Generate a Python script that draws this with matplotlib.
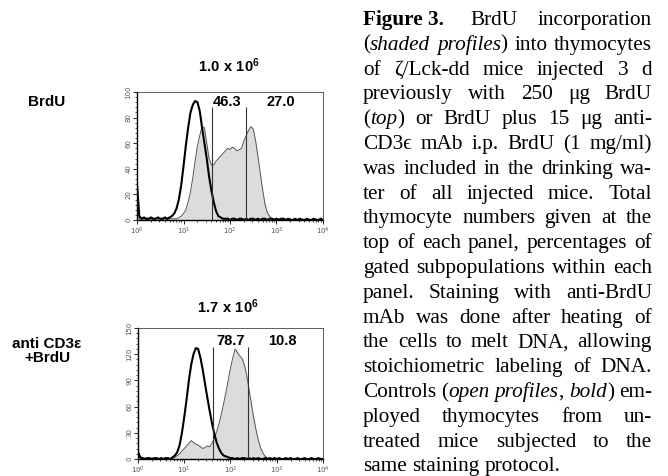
import matplotlib
matplotlib.use("Agg")
import matplotlib.pyplot as plt
import matplotlib.ticker as mticker
import numpy as np

plt.rcParams['mathtext.fontset'] = 'custom'
plt.rcParams['mathtext.rm'] = 'Liberation Sans'
plt.rcParams['mathtext.bf'] = 'Liberation Sans:bold'

# canales (log10 de la fluorescencia) y cuentas
log_canal = [0.00, 0.05, 0.10, 0.15, 0.20, 0.25, 0.30, 0.35, 0.40, 0.45,
             0.50, 0.55, 0.60, 0.65, 0.70, 0.75, 0.80, 0.85, 0.90, 0.95,
             1.00, 1.05, 1.10, 1.15, 1.20, 1.25, 1.30, 1.35, 1.40, 1.45,
             1.50, 1.55, 1.60, 1.65, 1.70, 1.75, 1.80, 1.85, 1.90, 1.95,
             2.00, 2.05, 2.10, 2.15, 2.20, 2.25, 2.30, 2.35, 2.40, 2.45,
             2.50, 2.55, 2.60, 2.65, 2.70, 2.75, 2.80, 2.85, 2.90, 2.95,
             3.00, 3.05, 3.10, 3.15, 3.20, 3.25, 3.30, 3.35, 3.40, 3.45,
             3.50, 3.55, 3.60, 3.65, 3.70, 3.75, 3.80, 3.85, 3.90, 3.95, 4.00]

# panel 1: BrdU
control_1 = [28, 3, 1, 2, 1, 1, 2, 1, 1, 2,
             1, 1, 2, 1, 2, 3, 5, 9, 16, 27,
             42, 58, 72, 84, 90, 93, 92, 85, 72, 60,
             48, 34, 23, 14, 7, 3, 2, 1, 1, 1,
             0, 1, 1, 0, 1, 1, 0, 1, 0, 1,
             1, 0, 1, 0, 1, 1, 0, 1, 1, 0,
             1, 0, 1, 1, 0, 1, 0, 0, 1, 0,
             1, 0, 0, 1, 0, 0, 1, 0, 0, 1, 0]
brdu_1 = [10, 1, 0, 1, 0, 1, 0, 1, 0, 0,
          1, 0, 1, 0, 1, 1, 1, 1, 2, 3,
          5, 8, 14, 22, 33, 46, 58, 66, 73, 72,
          60, 48, 43, 43, 46, 48, 50, 52, 54, 56,
          55, 57, 56, 54, 55, 56, 62, 66, 70, 73,
          71, 62, 50, 37, 24, 13, 6, 3, 1, 1,
          0, 1, 0, 1, 0, 1, 1, 0, 1, 0,
          0, 1, 0, 0, 1, 0, 0, 1, 0, 0, 0]

# panel 2: anti CD3e + BrdU
control_2 = [8, 2, 1, 0, 1, 1, 0, 1, 1, 0,
             1, 0, 1, 1, 0, 2, 4, 8, 16, 30,
             48, 68, 90, 108, 120, 127, 126, 116, 102, 86,
             70, 55, 41, 29, 19, 12, 7, 4, 3, 2,
             1, 1, 0, 1, 0, 1, 1, 0, 1, 0,
             1, 0, 1, 0, 0, 1, 0, 1, 0, 1,
             0, 1, 0, 0, 1, 0, 1, 0, 0, 1,
             0, 0, 1, 0, 0, 1, 0, 0, 1, 0, 0]
brdu_2 = [3, 1, 0, 1, 0, 0, 1, 0, 1, 0,
          0, 1, 0, 1, 0, 1, 2, 4, 6, 9,
          12, 15, 18, 21, 19, 17, 16, 14, 12, 13,
          15, 14, 18, 24, 31, 40, 51, 63, 76, 90,
          104, 116, 126, 122, 118, 115, 108, 96, 80, 64,
          48, 34, 22, 13, 7, 3, 1, 1, 0, 1,
          0, 1, 0, 0, 1, 0, 1, 0, 0, 1,
          0, 0, 1, 0, 0, 1, 0, 0, 0, 1, 0]

compuertas_1 = [40.5, 220]
compuertas_2 = [42.5, 235]
porcentajes_1 = ["46.3", "27.0"]
porcentajes_2 = ["78.7", "10.8"]
totales = [r"$\mathbf{1.0\ x\ 10^{6}}$", r"$\mathbf{1.7\ x\ 10^{6}}$"]
etiquetas = ["BrdU", "anti CD3\u03b5\n+BrdU"]

leyenda = [
    "*Figure\u00a03.\u00a0* BrdU incorporation",
    "(_shaded profiles_) into thymocytes",
    "of \u03b6/Lck-dd mice injected 3 d",
    "previously with 250 \u03bcg BrdU",
    "(_top_) or BrdU plus 15 \u03bcg anti-",
    "CD3\u03f5 mAb i.p. BrdU (1 mg/ml)",
    "was included in the drinking wa-",
    "ter of all injected mice. Total",
    "thymocyte numbers given at the",
    "top of each panel, percentages of",
    "gated subpopulations within each",
    "panel. Staining with anti-BrdU",
    "mAb was done after heating of",
    "the cells to melt DNA, allowing",
    "stoichiometric labeling of DNA.",
    "Controls (_open profiles_, _bold_) em-",
    "ployed thymocytes from un-",
    "treated mice subjected to the",
    "same staining protocol.",
]

W, H = 668, 476
fig = plt.figure(figsize=(W / 100, H / 100), dpi=100)


def px(x, y):
    return x / W, 1 - y / H


def panel(rect, control, brdu, ymax, paso, compuertas, alto, textos, ytxt, xtxt):
    ax = fig.add_axes(rect)
    x = 10 ** np.array(log_canal)
    ax.fill_between(x, brdu, color="#dcdcdc", lw=0)
    ax.plot(x, brdu, color="#555555", lw=0.7)
    ax.plot(x, control, color="black", lw=1.5)
    ax.vlines(compuertas, 0, alto, color="#333333", lw=0.8)
    for t, xx in zip(textos, xtxt):
        ax.text(xx, ytxt, t, ha="center", va="center", fontsize=10.5,
                fontweight="bold", family="Liberation Sans")
    ax.set_xscale("log")
    ax.set_xlim(1, 1e4)
    ax.set_ylim(0, ymax)
    ax.set_yticks(np.arange(0, ymax + 1, paso))
    ax.yaxis.set_minor_locator(mticker.MultipleLocator(paso / 5))
    ax.xaxis.set_major_locator(mticker.LogLocator(base=10))
    ax.xaxis.set_minor_locator(mticker.LogLocator(base=10, subs=np.arange(2, 10)))
    ax.xaxis.set_minor_formatter(mticker.NullFormatter())
    ax.tick_params(which="major", length=3, width=0.6, labelsize=5,
                   labelcolor="#555555", pad=1)
    ax.tick_params(which="minor", length=1.5, width=0.5)
    for lab in ax.get_yticklabels():
        lab.set_rotation(90)
        lab.set_va("center")
    for s in ["left", "bottom"]:
        ax.spines[s].set_linewidth(1.0)
    for s in ["top", "right"]:
        ax.spines[s].set_linewidth(0.6)
        ax.spines[s].set_color("#444444")
    return ax


panel([137 / W, 1 - 220 / H, 186 / W, 128 / H], control_1, brdu_1, 100, 20,
      compuertas_1, 88.5, porcentajes_1, 92, [87, 1230])
panel([138 / W, 1 - 459 / H, 185 / W, 131 / H], control_2, brdu_2, 150, 30,
      compuertas_2, 128.6, porcentajes_2, 135, [102, 1350])

fig.text(*px(229, 72), totales[0], ha="center", va="baseline", fontsize=10.5)
fig.text(*px(228, 313), totales[1], ha="center", va="baseline", fontsize=10.5)
fig.text(*px(47, 102), etiquetas[0], ha="center", va="center", fontsize=11,
         fontweight="bold", family="Liberation Sans")
fig.text(*px(47, 351), etiquetas[1], ha="center", va="center", fontsize=11,
         fontweight="bold", family="Liberation Sans", linespacing=1.05)

# leyenda justificada, palabra por palabra
serif = ["Liberation Serif", "DejaVu Serif"]
estilos = {"n": {}, "i": {"style": "italic"}, "b": {"weight": "bold"}}
tam = 15.3
r = fig.canvas.get_renderer()


def ancho(s, e):
    t = fig.text(0, 0, s, fontsize=tam, family=serif, **estilos[e])
    w = t.get_window_extent(r).width
    t.remove()
    return w


x0, x1, y0, dy = 363, 652, 25, 24.8
estado = "n"
for k, linea in enumerate(leyenda):
    palabras = []
    for pal in linea.split(" "):
        segs = []
        actual = ""
        for c in pal:
            if c in "*_":
                if actual:
                    segs.append((actual, estado))
                    actual = ""
                marca = "b" if c == "*" else "i"
                estado = "n" if estado == marca else marca
            else:
                actual += c
        if actual:
            segs.append((actual, estado))
        palabras.append([(s, e, ancho(s, e)) for s, e in segs])
    total = sum(w for p in palabras for _, _, w in p)
    if k == len(leyenda) - 1:
        hueco = ancho("a b", "n") - ancho("ab", "n")
    else:
        hueco = (x1 - x0 - total) / (len(palabras) - 1)
    x = x0
    y = y0 + k * dy
    for p in palabras:
        for s, e, w in p:
            fig.text(*px(x, y), s, fontsize=tam, family=serif, va="baseline",
                     **estilos[e])
            x += w
        x += hueco

fig.savefig("out.png", dpi=100)
